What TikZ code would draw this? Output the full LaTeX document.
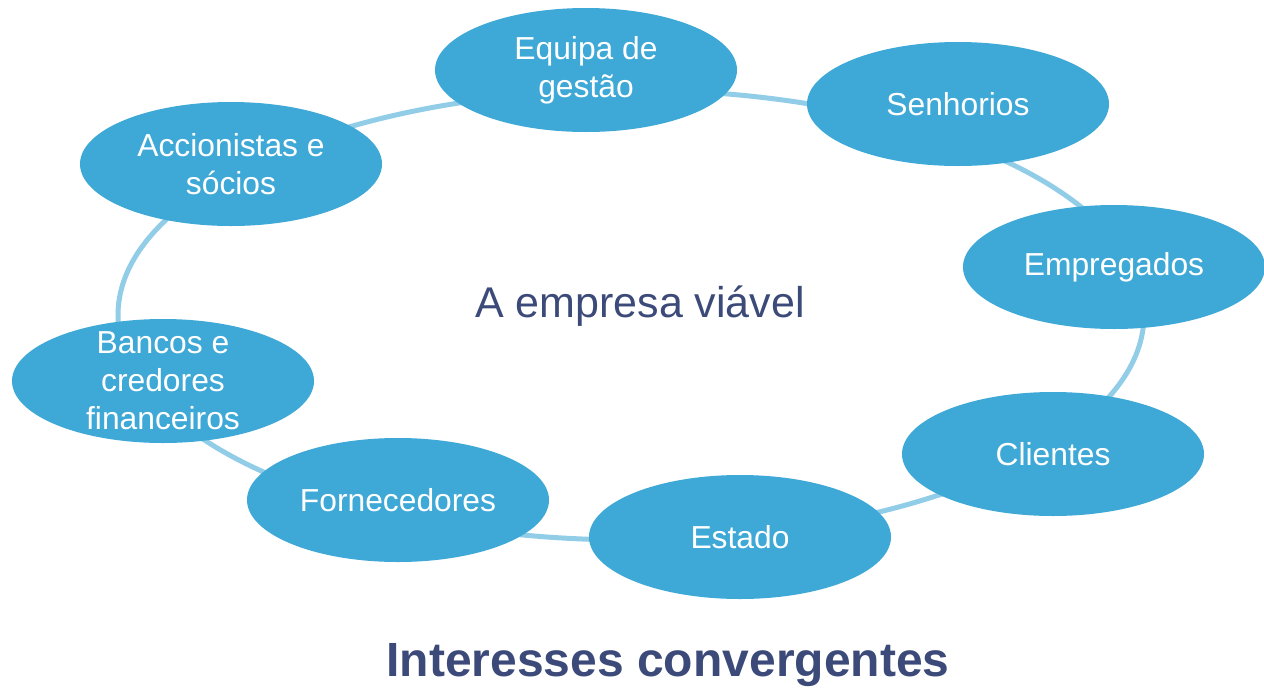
\documentclass[tikz,border=0pt]{standalone}
\usepackage{fontspec}
\setmainfont{Liberation Sans}
\usetikzlibrary{shapes.geometric}
\definecolor{blobblue}{RGB}{62,168,214}
\definecolor{ringblue}{RGB}{146,205,232}
\definecolor{titleblue}{RGB}{59,74,120}
\tikzset{
  blob/.style={ellipse, fill=blobblue, text=white, minimum width=151pt, minimum height=62pt,
    inner xsep=0pt, inner ysep=-10pt, align=center,
    font=\fontsize{15.9}{19}\selectfont},
}
\begin{document}
\begin{tikzpicture}[x=0.5pt, y=-0.5pt]
\useasboundingbox (0,0) rectangle (1264,691);
% anel
\draw[ringblue, line width=2.5pt] (631,315) ellipse [x radius=513, y radius=225];
\node[blob] (gestao) at (586,70) {Equipa de\\gestão};
\node[blob] (senhorios) at (958,104) {Senhorios};
\node[blob] (empregados) at (1114,267) {Empregados};
\node[blob] (clientes) at (1053,454) {Clientes};
\node[blob] (estado) at (740,537) {Estado};
\node[blob] (fornecedores) at (398,500) {Fornecedores};
\node[blob] (bancos) at (163,381) {Bancos e\\credores\\financeiros};
\node[blob] (socios) at (231,164) {Accionistas e\\sócios};
\node[anchor=base, text=titleblue, font=\fontsize{21.5}{25}\selectfont] (empresa) at (640,317) {A empresa viável};
\node[anchor=base, text=titleblue, font=\fontsize{24}{29}\selectfont\bfseries] (titulo) at (668,676) {Interesses convergentes};
\end{tikzpicture}
\end{document}
